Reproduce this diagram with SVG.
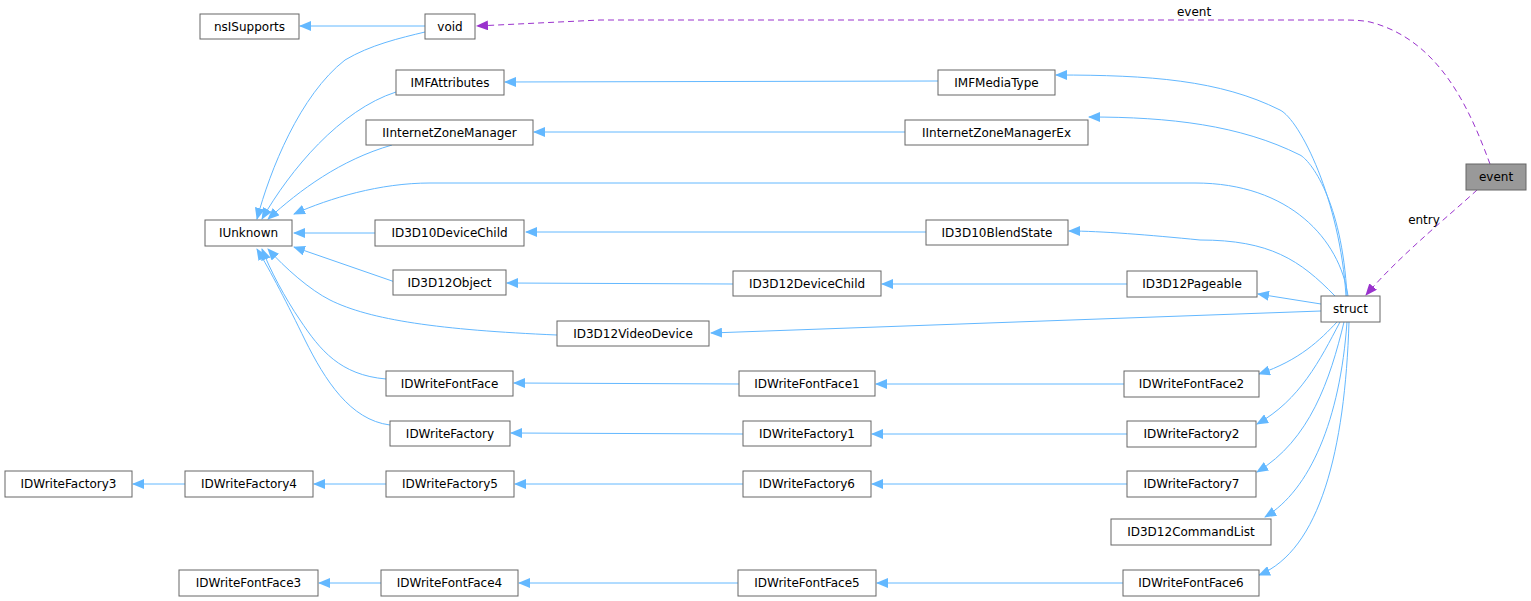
<svg xmlns="http://www.w3.org/2000/svg" width="1531" height="601" viewBox="0 0 1531 601">
<style>
.n rect{fill:#fff;stroke:#666;stroke-width:1}
.g rect{fill:#999;stroke:#666}
text{font-family:"DejaVu Sans",sans-serif;font-size:12px;fill:#000;text-anchor:middle}
.e{fill:none;stroke:#63b8ff;stroke-width:1}
.d{fill:none;stroke:#9a32cd;stroke-width:1;stroke-dasharray:6,4}
</style>
<defs>
<marker id="a" markerWidth="12" markerHeight="10" refX="11" refY="5" orient="auto" markerUnits="userSpaceOnUse"><path d="M0,0L12,5L0,10z" fill="#63b8ff"/></marker>
<marker id="p" markerWidth="12" markerHeight="10" refX="11" refY="5" orient="auto" markerUnits="userSpaceOnUse"><path d="M0,0L12,5L0,10z" fill="#9a32cd"/></marker>
</defs>
<rect width="1531" height="601" fill="#fff"/>
<g id="edges">
<path class="e" marker-end="url(#a)" d="M425,26H300"/>
<path class="e" marker-end="url(#a)" d="M938,81L505,82"/>
<path class="e" marker-end="url(#a)" d="M905,132H534"/>
<path class="e" marker-end="url(#a)" d="M926,232H526"/>
<path class="e" marker-end="url(#a)" d="M733,284L507,283"/>
<path class="e" marker-end="url(#a)" d="M1127,284H882"/>
<path class="e" marker-end="url(#a)" d="M739,384L514,383"/>
<path class="e" marker-end="url(#a)" d="M1124,384H876"/>
<path class="e" marker-end="url(#a)" d="M743,434L511,433"/>
<path class="e" marker-end="url(#a)" d="M1127,434H872"/>
<path class="e" marker-end="url(#a)" d="M185,484H133"/>
<path class="e" marker-end="url(#a)" d="M386,484H314"/>
<path class="e" marker-end="url(#a)" d="M743,484H515"/>
<path class="e" marker-end="url(#a)" d="M1127,484H872"/>
<path class="e" marker-end="url(#a)" d="M381,583H319"/>
<path class="e" marker-end="url(#a)" d="M738,583H519"/>
<path class="e" marker-end="url(#a)" d="M1123,583H877"/>
<path class="e" marker-end="url(#a)" d="M425,32C400,38 370,45 345,60C300,95 270,170 257,219"/>
<path class="e" marker-end="url(#a)" d="M396,92C340,110 290,170 262,219"/>
<path class="e" marker-end="url(#a)" d="M392,145C340,160 300,190 268,219"/>
<path class="e" marker-end="url(#a)" d="M375,233H294"/>
<path class="e" marker-end="url(#a)" d="M395,282L294,247"/>
<path class="e" marker-end="url(#a)" d="M557,335C440,330 370,320 330,300C310,290 285,268 268,249"/>
<path class="e" marker-end="url(#a)" d="M386,379C340,375 320,350 300,320C285,298 270,270 262,249"/>
<path class="e" marker-end="url(#a)" d="M390,425C350,420 325,380 305,340C288,305 270,270 257,249"/>
<path class="e" marker-end="url(#a)" d="M1346,296C1340,200 1300,120 1280,110C1220,80 1150,75 1056,75"/>
<path class="e" marker-end="url(#a)" d="M1347,296C1342,200 1310,160 1300,155C1240,125 1170,117 1089,117"/>
<path class="e" marker-end="url(#a)" d="M1348,296C1340,240 1290,183 1195,183H430C380,183 330,198 294,214"/>
<path class="e" marker-end="url(#a)" d="M1335,296C1300,260 1270,240 1200,240C1150,235 1100,231 1069,231"/>
<path class="e" marker-end="url(#a)" d="M1321,304L1258,294"/>
<path class="e" marker-end="url(#a)" d="M1321,311L711,333"/>
<path class="e" marker-end="url(#a)" d="M1337,322C1320,340 1300,360 1259,374"/>
<path class="e" marker-end="url(#a)" d="M1340,322C1320,360 1300,400 1257,424"/>
<path class="e" marker-end="url(#a)" d="M1344,322C1330,380 1310,440 1257,472"/>
<path class="e" marker-end="url(#a)" d="M1347,322C1340,420 1310,490 1265,517"/>
<path class="e" marker-end="url(#a)" d="M1349,322C1345,450 1320,550 1259,575"/>
<path class="d" marker-end="url(#p)" d="M1490,164C1470,110 1440,40 1370,22C1360,20 1350,20 1340,20H600L477,26"/>
<path class="d" marker-end="url(#p)" d="M1477,190C1450,215 1400,255 1366,295"/>
<text x="1194" y="16">event</text>
<text x="1424" y="224">entry</text>
</g>
<g id="nsISupports" class="n"><rect x="200" y="14" width="99" height="25"/><text x="249.5" y="31">nsISupports</text></g>
<g id="void" class="n"><rect x="425" y="14" width="50" height="25"/><text x="450" y="31">void</text></g>
<g id="IMFAttributes" class="n"><rect x="396" y="70" width="108" height="25"/><text x="450" y="87">IMFAttributes</text></g>
<g id="IMFMediaType" class="n"><rect x="938" y="70" width="117" height="25"/><text x="996.5" y="87">IMFMediaType</text></g>
<g id="IInternetZoneManager" class="n"><rect x="366" y="120" width="167" height="25"/><text x="449.5" y="137">IInternetZoneManager</text></g>
<g id="IInternetZoneManagerEx" class="n"><rect x="905" y="120" width="183" height="25"/><text x="996.5" y="137">IInternetZoneManagerEx</text></g>
<g id="IUnknown" class="n"><rect x="205" y="220" width="87" height="26"/><text x="248.5" y="237">IUnknown</text></g>
<g id="ID3D10DeviceChild" class="n"><rect x="375" y="220" width="149" height="26"/><text x="449.5" y="237">ID3D10DeviceChild</text></g>
<g id="ID3D10BlendState" class="n"><rect x="926" y="220" width="142" height="25"/><text x="997" y="237">ID3D10BlendState</text></g>
<g id="ID3D12Object" class="n"><rect x="393" y="270" width="113" height="25"/><text x="449.5" y="287">ID3D12Object</text></g>
<g id="ID3D12DeviceChild" class="n"><rect x="733" y="271" width="148" height="25"/><text x="807" y="288">ID3D12DeviceChild</text></g>
<g id="ID3D12Pageable" class="n"><rect x="1127" y="271" width="130" height="26"/><text x="1192" y="288">ID3D12Pageable</text></g>
<g id="struct" class="n"><rect x="1321" y="296" width="59" height="26"/><text x="1350.5" y="313">struct</text></g>
<g id="ID3D12VideoDevice" class="n"><rect x="557" y="321" width="152" height="25"/><text x="633" y="338">ID3D12VideoDevice</text></g>
<g id="event" class="g"><rect x="1466" y="164" width="60" height="26"/><text x="1496" y="181">event</text></g>
<g id="IDWriteFontFace" class="n"><rect x="386" y="371" width="127" height="25"/><text x="449.5" y="388">IDWriteFontFace</text></g>
<g id="IDWriteFontFace1" class="n"><rect x="739" y="371" width="136" height="25"/><text x="807" y="388">IDWriteFontFace1</text></g>
<g id="IDWriteFontFace2" class="n"><rect x="1124" y="371" width="135" height="26"/><text x="1191.5" y="388">IDWriteFontFace2</text></g>
<g id="IDWriteFactory" class="n"><rect x="390" y="421" width="120" height="25"/><text x="450" y="438">IDWriteFactory</text></g>
<g id="IDWriteFactory1" class="n"><rect x="743" y="421" width="128" height="25"/><text x="807" y="438">IDWriteFactory1</text></g>
<g id="IDWriteFactory2" class="n"><rect x="1127" y="421" width="129" height="26"/><text x="1191.5" y="438">IDWriteFactory2</text></g>
<g id="IDWriteFactory3" class="n"><rect x="5" y="471" width="127" height="26"/><text x="68.5" y="488">IDWriteFactory3</text></g>
<g id="IDWriteFactory4" class="n"><rect x="185" y="471" width="128" height="26"/><text x="249" y="488">IDWriteFactory4</text></g>
<g id="IDWriteFactory5" class="n"><rect x="386" y="471" width="128" height="26"/><text x="450" y="488">IDWriteFactory5</text></g>
<g id="IDWriteFactory6" class="n"><rect x="743" y="471" width="128" height="26"/><text x="807" y="488">IDWriteFactory6</text></g>
<g id="IDWriteFactory7" class="n"><rect x="1127" y="471" width="129" height="26"/><text x="1191.5" y="488">IDWriteFactory7</text></g>
<g id="ID3D12CommandList" class="n"><rect x="1111" y="519" width="160" height="26"/><text x="1191" y="536">ID3D12CommandList</text></g>
<g id="IDWriteFontFace3" class="n"><rect x="179" y="570" width="139" height="26"/><text x="248.5" y="587">IDWriteFontFace3</text></g>
<g id="IDWriteFontFace4" class="n"><rect x="381" y="570" width="137" height="26"/><text x="449.5" y="587">IDWriteFontFace4</text></g>
<g id="IDWriteFontFace5" class="n"><rect x="738" y="570" width="138" height="26"/><text x="807" y="587">IDWriteFontFace5</text></g>
<g id="IDWriteFontFace6" class="n"><rect x="1123" y="570" width="136" height="26"/><text x="1191" y="587">IDWriteFontFace6</text></g>
</svg>
